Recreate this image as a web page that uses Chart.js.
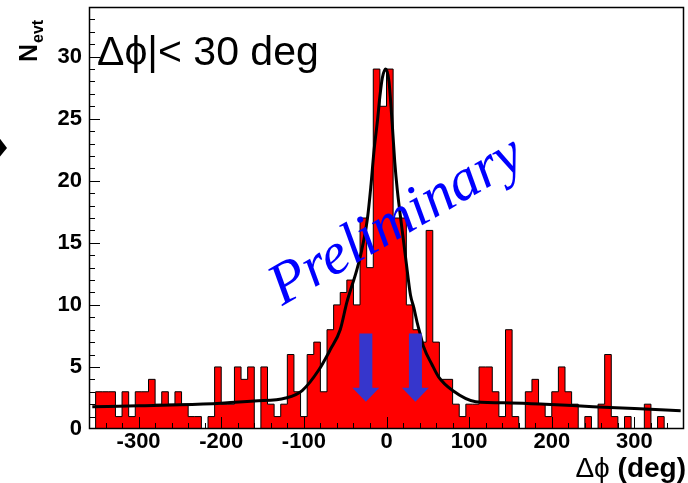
<!DOCTYPE html>
<html>
<head>
<meta charset="utf-8">
<script src="https://cdn.jsdelivr.net/npm/chart.js@4.4.1/dist/chart.umd.min.js"></script>
<style>
  html, body { margin: 0; padding: 0; background: #fff; }
  #wrap { width: 688px; height: 483px; position: relative; }
</style>
</head>
<body>
<div id="wrap"><canvas id="dphi"></canvas></div>
<script>
// delta-phi histogram, 8 deg bins from -360 to 360
const BIN_LO = -360;
const BIN_W = 8;
const COUNTS = [
  0, 3, 3, 3, 1, 3, 1, 3, 3, 4,
  2, 3, 2, 3, 2, 1, 1, 0, 1, 5,
  2, 2, 5, 4, 5, 0, 5, 2, 1, 2,
  6, 3, 1, 6, 7, 3, 8, 10, 11, 12,
  10, 17, 13, 29, 26, 29, 17, 17, 10, 8,
  7, 16, 7, 4, 4, 2, 1, 2, 2, 5,
  5, 3, 1, 8, 1, 0, 3, 4, 2, 1,
  3, 5, 3, 2, 0, 1, 0, 2, 6, 1,
  0, 1, 0, 0, 2, 0, 1, 0, 0, 0,
];

// fitted curve, sampled
const FIT_X = [-356, -300, -250, -200, -160, -122, -102, -82, -68, -56, -48, -36, -30, -23, -19, -15, -11, -8, -5, -1,
  3, 7, 10, 13, 19, 25, 29, 33, 37, 41, 45, 55, 63, 80, 108, 150, 192, 250, 300, 356];
const FIT_Y = [1.8, 1.87, 1.95, 2.08, 2.25, 2.5, 3.1, 4.75, 6.4, 8.0, 10.2, 12.8, 14.4, 17.0, 19.5, 22.5, 24.8, 26.8, 28.3, 29.0,
  28.0, 24.5, 21.5, 19.3, 16.0, 12.8, 10.8, 9.8, 8.6, 7.6, 6.6, 5.2, 4.2, 3.1, 2.2, 2.1, 2.0, 1.8, 1.65, 1.47];

// cut markers
const ARROW_X = [-25, 35];
const ARROW_FROM = 7.7;
const ARROW_TO = 2.2;

const X_MIN = -360, X_MAX = 360;
const Y_MIN = 0, Y_MAX = 34;
const X_TICKS = [-300, -200, -100, 0, 100, 200, 300];
const Y_TICKS = [0, 5, 10, 15, 20, 25, 30];
const X_MINOR = 20;
const Y_MINOR = 1;

const SANS = '"Liberation Sans", Arial, Helvetica, sans-serif';
const SERIF = '"Liberation Serif", "Times New Roman", serif';

const histPoints = COUNTS.map((c, i) => ({ x: BIN_LO + i * BIN_W, y: c }));
histPoints.push({ x: BIN_LO + COUNTS.length * BIN_W, y: 0 });
const fitPoints = FIT_X.map((x, i) => ({ x, y: FIT_Y[i] }));

// ROOT-like frame with inward ticks, drawn over the histogram
const framePlugin = {
  id: "frame",
  afterDatasetsDraw(chart) {
    const { ctx, chartArea: a, scales } = chart;
    const xs = scales.x, ys = scales.y;
    ctx.save();
    ctx.strokeStyle = "#000";
    ctx.lineWidth = 1;
    ctx.beginPath();
    for (let v = X_MIN + X_MINOR; v < X_MAX; v += X_MINOR) {
      const px = Math.round(xs.getPixelForValue(v)) + 0.5;
      const len = v % 100 === 0 ? 12 : 6;
      ctx.moveTo(px, a.bottom);
      ctx.lineTo(px, a.bottom - len);
    }
    for (let v = Y_MIN + Y_MINOR; v < Y_MAX; v += Y_MINOR) {
      const py = Math.round(ys.getPixelForValue(v)) + 0.5;
      const len = v % 5 === 0 ? 11 : 6;
      ctx.moveTo(a.left, py);
      ctx.lineTo(a.left + len, py);
    }
    ctx.stroke();
    ctx.lineWidth = 1.5;
    ctx.strokeRect(Math.round(a.left) + 0.5, Math.round(a.top) + 0.5,
      Math.round(a.width) - 1, Math.round(a.height) - 1);

    // blue arrows at the cut values
    ctx.fillStyle = "#3636cc";
    ARROW_X.forEach((v) => {
      const px = xs.getPixelForValue(v);
      const top = ys.getPixelForValue(ARROW_FROM);
      const tip = ys.getPixelForValue(ARROW_TO);
      const headH = 14, shaft = 6.5, head = 13.5;
      ctx.beginPath();
      ctx.moveTo(px - shaft, top);
      ctx.lineTo(px + shaft, top);
      ctx.lineTo(px + shaft, tip - headH);
      ctx.lineTo(px + head, tip - headH);
      ctx.lineTo(px, tip);
      ctx.lineTo(px - head, tip - headH);
      ctx.lineTo(px - shaft, tip - headH);
      ctx.closePath();
      ctx.fill();
    });
    ctx.restore();
  },
  afterDraw(chart) {
    const { ctx, chartArea: a, scales } = chart;
    const xs = scales.x, ys = scales.y;
    ctx.save();
    ctx.fillStyle = "#000";

    // cut label
    ctx.font = "41px " + SANS;
    ctx.textAlign = "left";
    ctx.textBaseline = "alphabetic";
    ctx.fillText("\u0394\u03d5|< 30 deg", a.left + 8, a.top + 58);

    // x title: symbol part regular, unit bold
    ctx.textAlign = "left";
    ctx.font = "bold 28px " + SANS;
    const unit = " (deg)";
    const wUnit = ctx.measureText(unit).width;
    ctx.font = "28px " + SANS;
    const sym = "\u0394\u03d5";
    const wSym = ctx.measureText(sym).width;
    const xr = a.right + 2;
    ctx.fillText(sym, xr - wUnit - wSym, 477);
    ctx.font = "bold 28px " + SANS;
    ctx.fillText(unit, xr - wUnit, 477);

    // y title N_evt, rotated
    ctx.save();
    ctx.translate(37, 62);
    ctx.rotate(-Math.PI / 2);
    ctx.font = "bold 25px " + SANS;
    ctx.fillText("N", 0, 0);
    const wN = ctx.measureText("N").width;
    ctx.font = "bold 16px " + SANS;
    ctx.fillText("evt", wN + 1, 6);
    ctx.restore();

    // stray marker cut by the left edge
    ctx.beginPath();
    ctx.moveTo(-2, 136);
    ctx.lineTo(7, 148);
    ctx.lineTo(-2, 159);
    ctx.closePath();
    ctx.fill();

    // watermark
    ctx.save();
    ctx.translate(xs.getPixelForValue(22), ys.getPixelForValue(15.6));
    ctx.rotate(-30 * Math.PI / 180);
    ctx.fillStyle = "#0000ff";
    ctx.font = "italic 59px " + SERIF;
    ctx.textAlign = "center";
    ctx.fillText("Preliminary", 0, 0);
    ctx.restore();

    ctx.restore();
  },
};

new Chart(document.getElementById("dphi").getContext("2d"), {
  type: "line",
  data: {
    datasets: [
      {
        label: "fit",
        data: fitPoints,
        borderColor: "#000",
        borderWidth: 3,
        pointRadius: 0,
        cubicInterpolationMode: "monotone",
        fill: false,
        order: 0,
      },
      {
        label: "events",
        data: histPoints,
        stepped: "before",
        borderColor: "#000",
        borderWidth: 1,
        backgroundColor: "#ff0000",
        pointRadius: 0,
        fill: "origin",
        order: 1,
      },
    ],
  },
  options: {
    responsive: true,
    maintainAspectRatio: false,
    animation: false,
    events: [],
    layout: { padding: { left: 0, top: 7, right: 4, bottom: 0 } },
    plugins: { legend: { display: false }, tooltip: { enabled: false } },
    scales: {
      x: {
        type: "linear",
        min: X_MIN,
        max: X_MAX,
        grid: { display: false, drawTicks: false },
        border: { display: false },
        ticks: { color: "#000", font: { family: SANS, size: 22, weight: "bold" }, padding: 0, maxRotation: 0 },
        afterBuildTicks: (scale) => { scale.ticks = X_TICKS.map((v) => ({ value: v })); },
        afterFit: (scale) => {
          scale.height = 54;
          scale.paddingLeft = 0;
          scale.paddingRight = 0;
        },
      },
      y: {
        min: Y_MIN,
        max: Y_MAX,
        grid: { display: false, drawTicks: false },
        border: { display: false },
        ticks: { color: "#000", font: { family: SANS, size: 22, weight: "bold" }, padding: 7 },
        afterBuildTicks: (scale) => { scale.ticks = Y_TICKS.map((v) => ({ value: v })); },
        afterFit: (scale) => {
          scale.width = 89;
          scale.paddingTop = 0;
          scale.paddingBottom = 0;
        },
      },
    },
  },
  plugins: [framePlugin],
});
</script>
</body>
</html>
